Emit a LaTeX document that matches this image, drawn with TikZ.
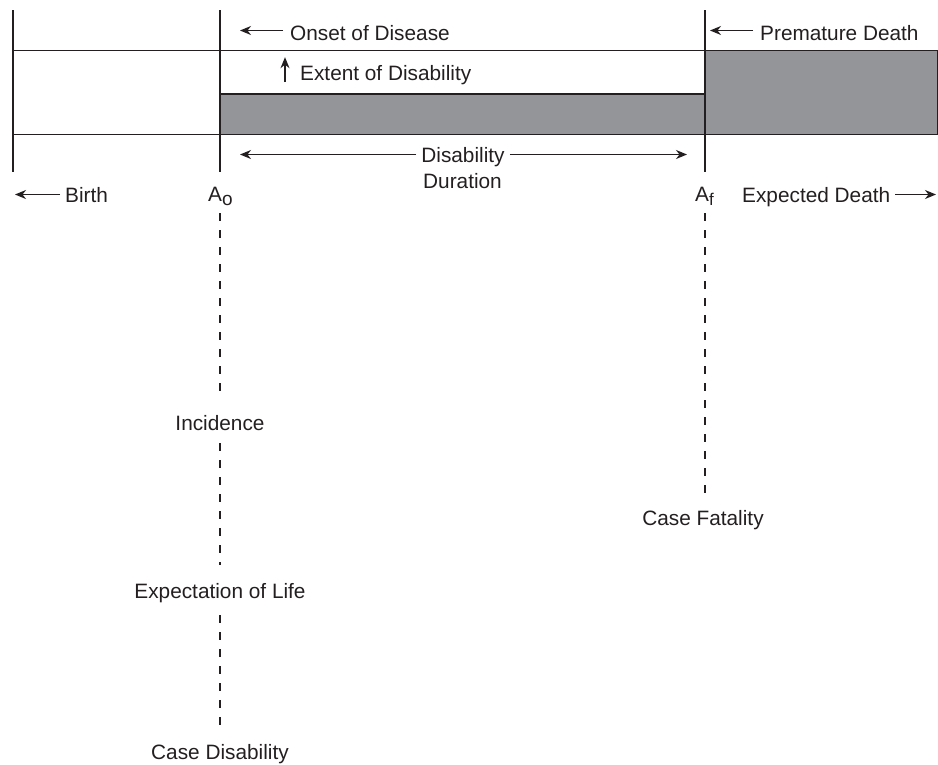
\documentclass[tikz,border=0pt]{standalone}
\usepackage{fontspec}
\setmainfont{Liberation Sans}
\usetikzlibrary{arrows.meta}
\definecolor{ink}{HTML}{231F20}
\definecolor{shade}{RGB}{147,149,152}
\begin{document}
\begin{tikzpicture}[x=1pt,y=-1pt,
  line/.style={draw=ink,line width=1.2pt},
  dline/.style={draw=ink,line width=1.1pt,dash pattern=on 8pt off 9pt},
  arr/.style={draw=ink,line width=1.2pt,-{Stealth[length=11pt,width=9pt,inset=3.5pt]}},
  lbl/.style={inner sep=0pt,text=ink,text height=15pt,text depth=0pt,
    font=\fontsize{20.8}{25}\selectfont},
  shadebox/.style={fill=shade,draw=ink,line width=1.2pt}]
\useasboundingbox (0,0) rectangle (938,764);

% frame of the life line
\coordinate (bTop) at (13,10);   \coordinate (bBot) at (13,172);
\coordinate (oTop) at (220,10);  \coordinate (oBot) at (220,172);
\coordinate (fTop) at (705,10);  \coordinate (fBot) at (705,172);
\coordinate (hiL) at (13,50.5);  \coordinate (hiR) at (938,50.5);
\coordinate (loL) at (13,134.5); \coordinate (loR) at (938,134.5);

% shaded years lost to disability and to early death
\path[shadebox] (220,94) rectangle (705,134.5);
\path[shadebox] (705,50.5) rectangle (938,134.5);

\draw[line] (hiL) -- (hiR);
\draw[line] (loL) -- (loR);
\draw[line] (bTop) -- (bBot);
\draw[line] (oTop) -- (oBot);
\draw[line] (fTop) -- (fBot);

% arrow tip positions
\coordinate (birthTip) at (15,0);
\coordinate (onsetTip) at (240,0);
\coordinate (premTip) at (710,0);
\coordinate (durL) at (240,0);
\coordinate (durR) at (687,0);
\coordinate (edTip) at (936,0);

% labels
\node[lbl,anchor=base west] (onset) at (290,40) {Onset of Disease};
\node[lbl,anchor=base west] (prem) at (760,40) {Premature Death};
\node[lbl,anchor=base west] (ext) at (300,80) {Extent of Disability};
\node[lbl,anchor=base] (dis1) at (463,162) {Disability};
\node[lbl,anchor=base] (dis2) at (462.5,188) {Duration};
\node[lbl,anchor=base west] (birth) at (65,202) {Birth};
\node[lbl,anchor=base west] (Ao) at (208,201) {A\raisebox{-4pt}{\fontsize{19}{19}\selectfont o}};
\node[lbl,anchor=base west] (Af) at (695,201) {A\raisebox{-4pt}{\fontsize{17}{17}\selectfont f}};
\node[lbl,anchor=base west] (ed) at (742,202) {Expected Death};
\node[lbl,anchor=base] (inc) at (220,430) {Incidence};
\node[lbl,anchor=base] (exp) at (220,598) {Expectation of Life};
\node[lbl,anchor=base] (cd) at (220,759) {Case Disability};
\node[lbl,anchor=base] (cf) at (703,525) {Case Fatality};

% arrows beside the labels
\draw[arr] ([shift={(-7pt,2pt)}]onset.west) -- ([yshift=2pt]onset.west -| onsetTip);
\draw[arr] ([shift={(-7pt,2pt)}]prem.west) -- ([yshift=2pt]prem.west -| premTip);
\draw[arr] ([shift={(-15pt,-2pt)}]ext.south west) -- ([shift={(-15pt,23pt)}]ext.south west);
\draw[arr] ([xshift=-5pt]dis1.west) -- (dis1.west -| durL);
\draw[arr] ([xshift=5pt]dis1.east) -- (dis1.east -| durR);
\draw[arr] ([xshift=-5pt]birth.west) -- (birth.west -| birthTip);
\draw[arr] ([xshift=5pt]ed.east) -- (ed.east -| edTip);

% dashed guides below the ages
\draw[dline,shorten <=12pt,shorten >=17pt] (Ao.south -| oBot) -- (inc.north);
\draw[dline,shorten <=13pt,shorten >=18pt] (inc.south) -- (exp.north);
\draw[dline,shorten <=17pt,shorten >=14pt] (exp.south) -- (cd.north);
\draw[dline,shorten <=12pt,shorten >=15pt] (Af.south -| fBot) -- (cf.north -| fBot);
\end{tikzpicture}
\end{document}
